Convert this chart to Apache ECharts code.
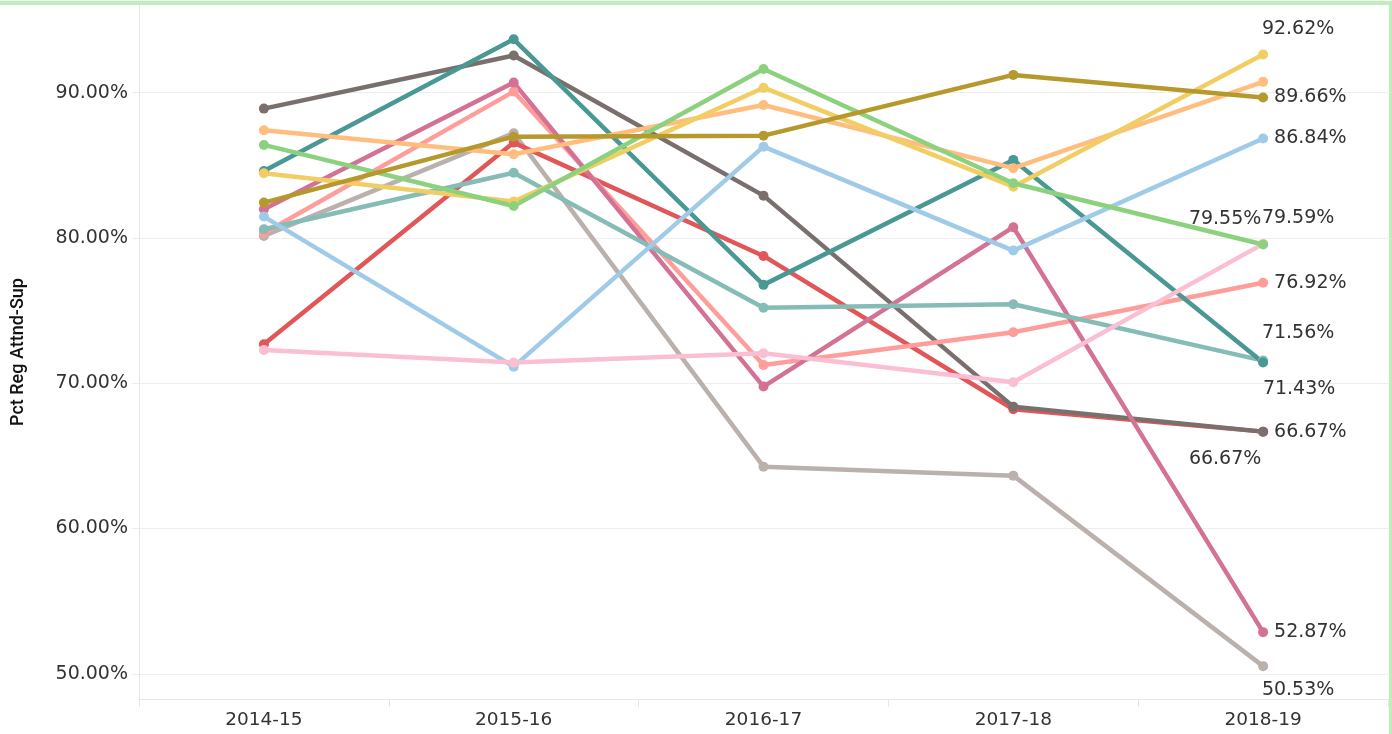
<!DOCTYPE html>
<html><head><meta charset="utf-8">
<script src="https://cdn.jsdelivr.net/npm/echarts@6/dist/echarts.min.js"></script>
<style>html,body{margin:0;padding:0;background:#fff}#c{width:1392px;height:734px}</style>
</head><body><div id="c"></div>
<script>
// ---- data ----
const categories = ['2014-15', '2015-16', '2016-17', '2017-18', '2018-19'];
const yTickValues = [50, 60, 70, 80, 90];
const axisName = 'Pct Reg Attnd-Sup';

const seriesNames = ['Teal', 'Dark Grey', 'Magenta', 'Salmon', 'Olive', 'Light Orange', 'Green', 'Yellow', 'Light Grey', 'Light Teal', 'Red', 'Light Blue', 'Light Pink'];
const tealValues        = [84.60, 93.67, 76.77, 85.37, 71.43];
const darkGreyValues    = [88.90, 92.55, 82.91, 68.39, 66.67];
const magentaValues     = [81.97, 90.69, 69.77, 80.74, 52.87];
const salmonValues      = [80.32, 90.07, 71.26, 73.51, 76.92];
const oliveValues       = [82.43, 86.97, 87.04, 91.22, 89.66];
const lightOrangeValues = [87.41, 85.76, 89.15, 84.80, 90.74];
const greenValues       = [86.40, 82.20, 91.63, 83.76, 79.55];
const yellowValues      = [84.45, 82.50, 90.34, 83.53, 92.62];
const lightGreyValues   = [80.14, 87.21, 64.26, 63.64, 50.53];
const lightTealValues   = [80.60, 84.49, 75.20, 75.44, 71.56];
const redValues         = [72.68, 86.56, 78.76, 68.21, 66.67];
const lightBlueValues   = [81.47, 71.14, 86.28, 79.13, 86.84];
const lightPinkValues   = [72.29, 71.42, 72.06, 70.07, 79.59];

const allValues = [tealValues, darkGreyValues, magentaValues, salmonValues, oliveValues, lightOrangeValues, greenValues, yellowValues, lightGreyValues, lightTealValues, redValues, lightBlueValues, lightPinkValues];

// ---- styles ----
const colors = ['#499894', '#79706E', '#D37295', '#FF9D9A', '#B6992D', '#FFBE7D', '#8CD17D', '#F1CE63', '#BAB0AC', '#86BCB6', '#E15759', '#A0CBE8', '#FABFD2'];
// end label placement per series (null = no label)
const endLabelStyle = [
  {position: 'bottom', offset: [36, 6]},
  {position: 'right', offset: [0, 0]},
  {position: 'right', offset: [0, 0]},
  {position: 'right', offset: [0, 0]},
  {position: 'right', offset: [0, 0]},
  null,
  {position: 'top', offset: [-38, -5]},
  {position: 'top', offset: [35, -5]},
  {position: 'bottom', offset: [35, 3]},
  {position: 'top', offset: [35, -7]},
  {position: 'bottom', offset: [-38, 7]},
  {position: 'right', offset: [0, 0]},
  {position: 'top', offset: [35, -5]}
];
const drawOrder = [8, 10, 1, 3, 2, 9, 0, 11, 12, 5, 7, 6, 4];

const FONT = '"DejaVu Sans", sans-serif';
const series = drawOrder.map(function (i) {
  const vals = allValues[i];
  const ls = endLabelStyle[i];
  return {
    name: seriesNames[i],
    type: 'line',
    symbol: 'circle',
    symbolSize: 10,
    lineStyle: {width: 4.5, color: colors[i]},
    itemStyle: {color: colors[i]},
    emphasis: {disabled: true},
    data: vals.map(function (v, k) {
      if (k === vals.length - 1 && ls) {
        return {
          value: v,
          label: {
            show: true,
            position: ls.position,
            offset: ls.offset,
            distance: 6,
            formatter: v.toFixed(2) + '%',
            color: '#333',
            fontFamily: FONT,
            fontSize: 19
          }
        };
      }
      return v;
    })
  };
});

const chart = echarts.init(document.getElementById('c'), null, {renderer: 'canvas'});
chart.setOption({
  animation: false,
  backgroundColor: '#fff',
  grid: {left: 139, right: 4, top: 5, bottom: 35, containLabel: false, outerBoundsMode: 'none'},
  xAxis: {
    type: 'category',
    data: categories,
    boundaryGap: true,
    axisLine: {show: true, lineStyle: {color: '#e6e6e6', width: 1}},
    axisTick: {show: true, interval: 0, length: 8, lineStyle: {color: '#e6e6e6'}},
    axisLabel: {color: '#333', fontFamily: FONT, fontSize: 18.5, margin: 12, interval: 0},
    splitLine: {show: false}
  },
  yAxis: {
    type: 'value',
    min: 48.27,
    max: 96.03,
    name: axisName,
    nameLocation: 'middle',
    nameRotate: 90,
    nameGap: 112,
    nameTextStyle: {color: '#111', fontFamily: '"Liberation Sans Narrow", Roboto, sans-serif', fontSize: 18, fontWeight: 500},
    axisLine: {show: true, lineStyle: {color: '#e6e6e6', width: 1}},
    axisTick: {show: true, length: 7, customValues: yTickValues, lineStyle: {color: '#eeeeee'}},
    axisLabel: {
      customValues: yTickValues,
      color: '#333', fontFamily: FONT, fontSize: 19, margin: 11,
      formatter: function (v) { return v.toFixed(2) + '%'; }
    },
    splitLine: {show: true, lineStyle: {color: '#eeeeee', width: 1}}
  },
  graphic: [
    {type: 'rect', shape: {x: 0, y: 1, width: 1392, height: 4}, style: {fill: '#bdf0b8'}, silent: true},
    {type: 'rect', shape: {x: 1389, y: 1, width: 3, height: 733}, style: {fill: '#bdf0b8'}, silent: true}
  ],
  series: series
});
</script>
</body></html>
